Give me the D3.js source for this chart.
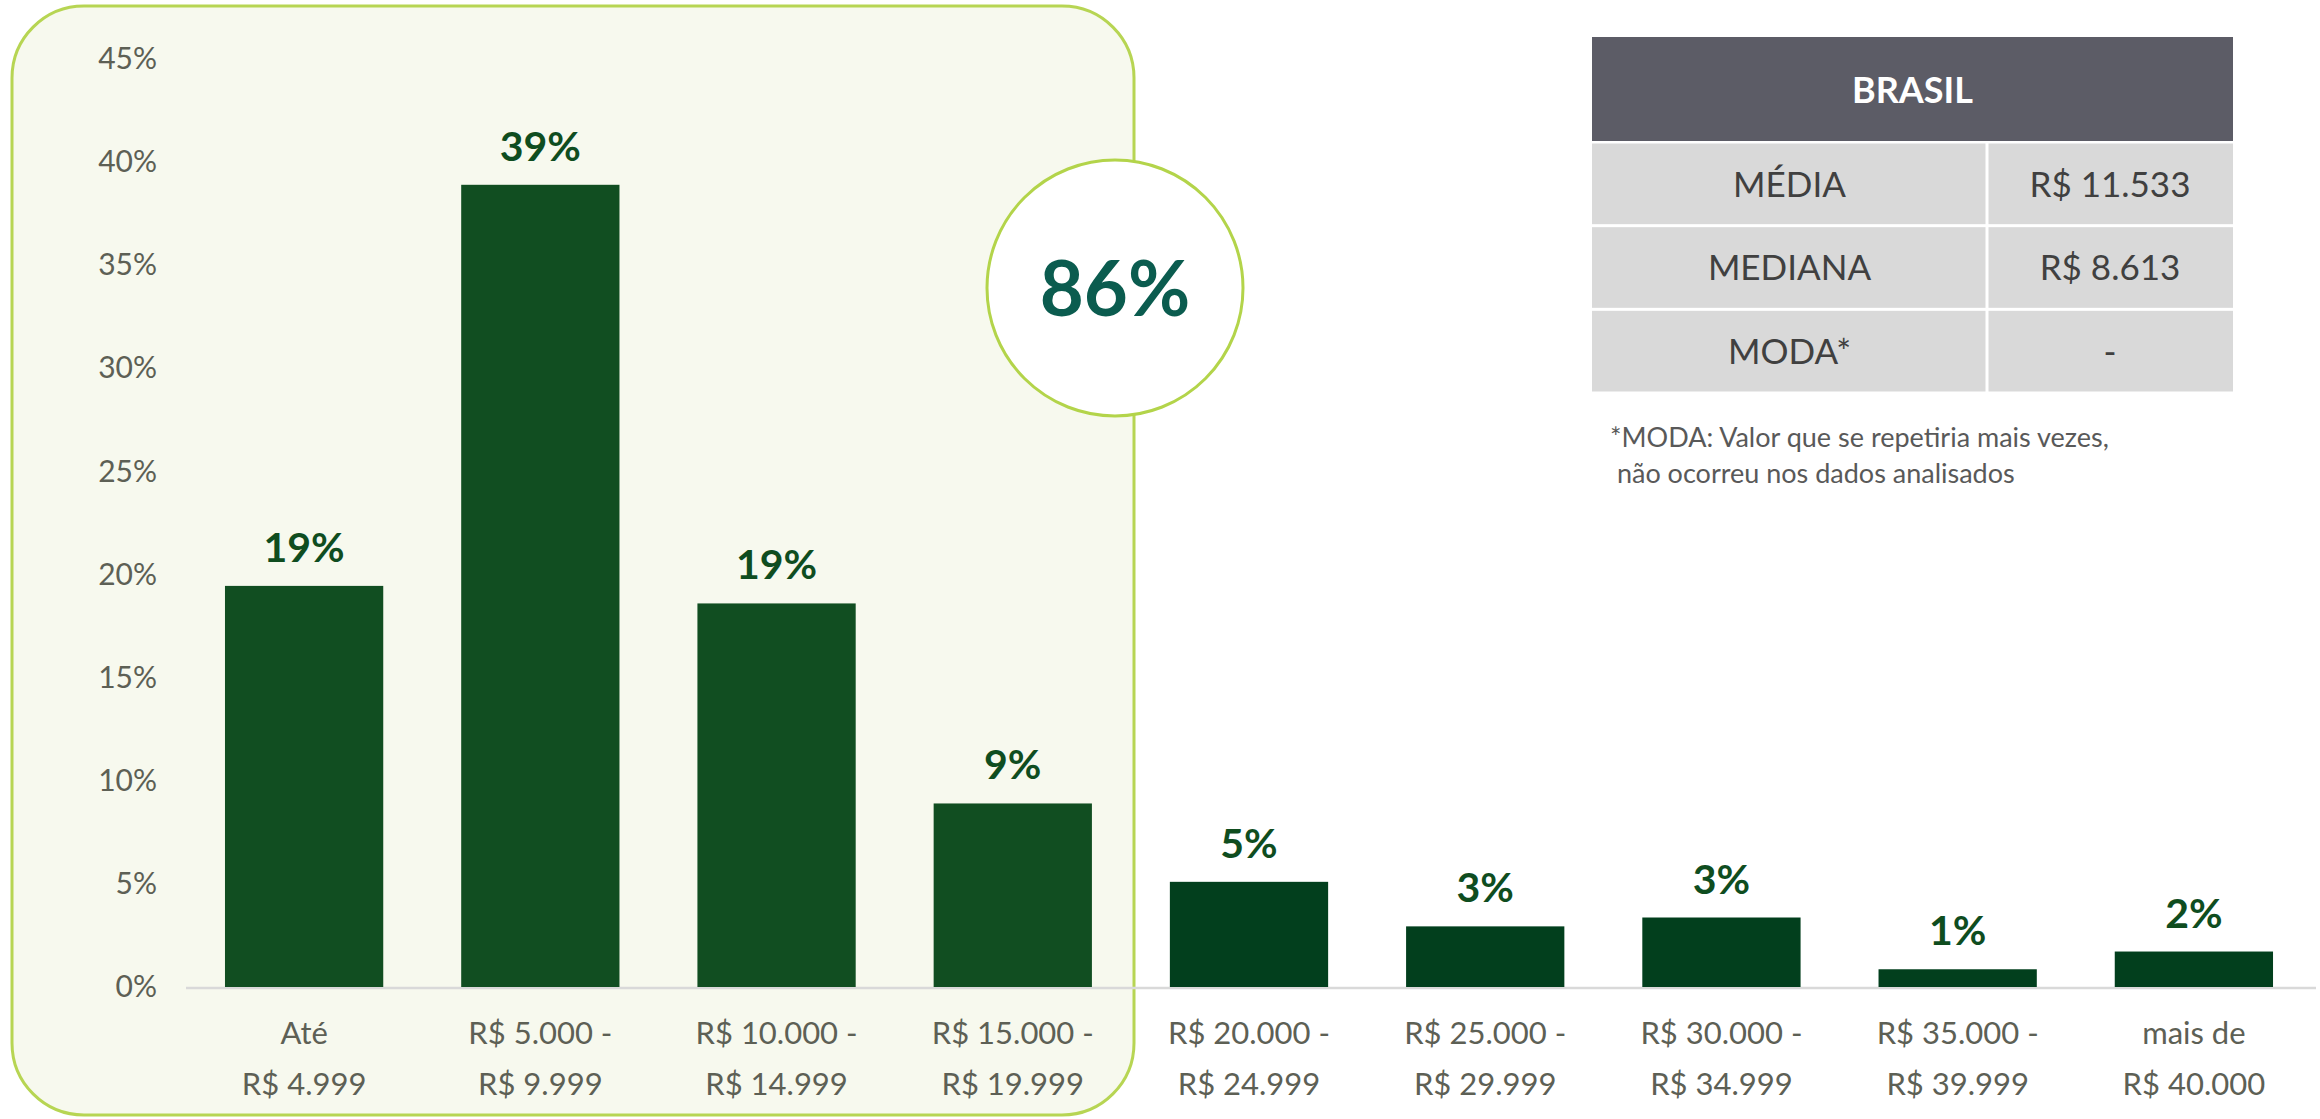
<!DOCTYPE html>
<html>
<head>
<meta charset="utf-8">
<title>Faixas de renda</title>
<script src="https://d3js.org/d3.v7.min.js"></script>
<style>
 body { margin: 0; background: #fff; }
 svg { display: block; font-family: Lato, "Noto Sans", sans-serif; }
 .tick text { fill: #5d6055; font-size: 30px; font-family: Lato, "Noto Sans", sans-serif; }
 .xlabel { fill: #5d6055; font-size: 31px; }
 .value { fill: #0f4d1f; font-size: 41px; font-weight: bold; }
 .cell { fill: #404040; font-size: 35px; }
 .note { fill: #595959; font-size: 27px; }
</style>
</head>
<body>
<div id="chart"></div>
<script>
// faixas de renda (duas linhas por rótulo)
var line1 = ["Até", "R$ 5.000 -", "R$ 10.000 -", "R$ 15.000 -", "R$ 20.000 -",
             "R$ 25.000 -", "R$ 30.000 -", "R$ 35.000 -", "mais de"];
var line2 = ["R$ 4.999", "R$ 9.999", "R$ 14.999", "R$ 19.999", "R$ 24.999",
             "R$ 29.999", "R$ 34.999", "R$ 39.999", "R$ 40.000"];
// percentual de respondentes
var values = [19.45, 38.9, 18.6, 8.9, 5.1, 2.94, 3.37, 0.86, 1.72];
var yTicks = [0, 5, 10, 15, 20, 25, 30, 35, 40, 45];
var highlightCount = 4;
var highlightText = "86%";

var tableHeader = "BRASIL";
var tableRows = [["MÉDIA", "R$ 11.533"], ["MEDIANA", "R$ 8.613"], ["MODA*", "-"]];
var noteLines = ["*MODA: Valor que se repetiria mais vezes,", " não ocorreu nos dados analisados"];

var width = 2320, height = 1119;

var svg = d3.select("#chart").append("svg")
  .attr("width", width)
  .attr("height", height);

var x = d3.scaleBand()
  .domain(d3.range(values.length))
  .range([186, 2312])
  .paddingInner(0.33)
  .paddingOuter(0.165);

var y = d3.scaleLinear().domain([0, 45]).range([987, 59]);

// painel destacado
svg.append("rect")
  .attr("x", 12).attr("y", 6)
  .attr("width", 1122).attr("height", 1109)
  .attr("rx", 72).attr("ry", 72)
  .attr("fill", "#f7f9ee")
  .attr("stroke", "#b7d553")
  .attr("stroke-width", 3);

// eixo y
var yAxis = svg.append("g")
  .attr("transform", "translate(165,0)")
  .call(d3.axisLeft(y).tickValues(yTicks).tickSize(0).tickPadding(8)
    .tickFormat(function(d) { return d + "%"; }));
yAxis.attr("font-family", null).attr("font-size", null);
yAxis.select(".domain").remove();

// linha de base
svg.append("line")
  .attr("x1", 186).attr("x2", 2316)
  .attr("y1", y(0) + 1).attr("y2", y(0) + 1)
  .attr("stroke", "#d9d9d9")
  .attr("stroke-width", 2.5);

svg.selectAll(".bar")
  .data(values)
  .enter()
  .append("rect")
  .attr("class", "bar")
  .attr("x", function(d, i) { return x(i); })
  .attr("y", function(d) { return y(d); })
  .attr("width", x.bandwidth())
  .attr("height", function(d) { return y(0) - y(d); })
  .attr("fill", function(d, i) { return i < highlightCount ? "#114e21" : "#023f1d"; });

svg.selectAll(".value")
  .data(values)
  .enter()
  .append("text")
  .attr("class", "value")
  .attr("x", function(d, i) { return x(i) + x.bandwidth() / 2; })
  .attr("y", function(d) { return y(d) - 24; })
  .attr("text-anchor", "middle")
  .text(function(d) { return Math.round(d) + "%"; });

var xl = svg.selectAll(".xlabel")
  .data(line1)
  .enter()
  .append("text")
  .attr("class", "xlabel")
  .attr("text-anchor", "middle");
xl.append("tspan")
  .attr("x", function(d, i) { return x(i) + x.bandwidth() / 2; })
  .attr("y", 1044)
  .text(function(d) { return d; });
xl.append("tspan")
  .attr("x", function(d, i) { return x(i) + x.bandwidth() / 2; })
  .attr("y", 1095)
  .text(function(d, i) { return line2[i]; });

// círculo com total destacado
svg.append("circle")
  .attr("cx", 1115).attr("cy", 288).attr("r", 128)
  .attr("fill", "#fff")
  .attr("stroke", "#b3d44a")
  .attr("stroke-width", 3);
svg.append("text")
  .attr("x", 1115).attr("y", 316)
  .attr("text-anchor", "middle")
  .attr("fill", "#0b5c4f")
  .style("font-size", "76px")
  .style("font-weight", "bold")
  .text(highlightText);

// tabela
var tx = 1592, tw = 641, col = 1987;
var table = svg.append("g");
table.append("rect")
  .attr("x", tx).attr("y", 37).attr("width", tw).attr("height", 104)
  .attr("fill", "#5c5c66");
table.append("text")
  .attr("x", tx + tw / 2).attr("y", 103)
  .attr("text-anchor", "middle")
  .attr("fill", "#fff")
  .style("font-size", "36px").style("font-weight", "bold")
  .text(tableHeader);

var rowY = d3.scaleBand().domain(d3.range(tableRows.length)).range([142, 393]);
var rows = table.selectAll(".row")
  .data(tableRows)
  .enter()
  .append("g")
  .attr("transform", function(d, i) { return "translate(0," + rowY(i) + ")"; });
rows.append("rect")
  .attr("x", tx).attr("y", 1.5)
  .attr("width", col - tx - 1.5).attr("height", rowY.bandwidth() - 3)
  .attr("fill", "#d9d9d9");
rows.append("rect")
  .attr("x", col + 1.5).attr("y", 1.5)
  .attr("width", tx + tw - col - 1.5).attr("height", rowY.bandwidth() - 3)
  .attr("fill", "#d9d9d9");
rows.append("text")
  .attr("class", "cell")
  .attr("x", (tx + col) / 2).attr("y", rowY.bandwidth() / 2 + 13)
  .attr("text-anchor", "middle")
  .text(function(d) { return d[0]; });
rows.append("text")
  .attr("class", "cell")
  .attr("x", (col + tx + tw) / 2).attr("y", rowY.bandwidth() / 2 + 13)
  .attr("text-anchor", "middle")
  .text(function(d) { return d[1]; });

svg.selectAll(".note")
  .data(noteLines)
  .enter()
  .append("text")
  .attr("class", "note")
  .attr("x", 1610)
  .attr("y", function(d, i) { return 447 + i * 36; })
  .attr("xml:space", "preserve")
  .style("white-space", "pre")
  .text(function(d) { return d; });
</script>
</body>
</html>
